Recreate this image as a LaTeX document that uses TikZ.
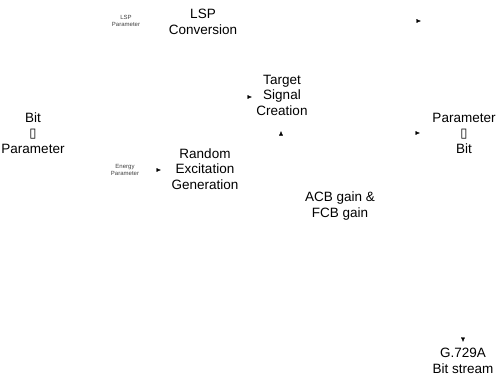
\documentclass[tikz,border=0pt]{standalone}
\usepackage{fontspec}
\setmainfont{Liberation Sans}
\newfontfamily\symfont{DejaVu Sans}
\usetikzlibrary{arrows.meta}

\newcommand{\blk}{{\symfont\fontsize{13}{13}\selectfont ▯}}

\tikzset{
  block/.style={font=\fontsize{13.5}{15.5}\selectfont, align=center, inner sep=1pt},
  tiny/.style={font=\fontsize{6}{7.5}\selectfont, align=center, text=black!75, inner sep=1pt},
  link/.style={draw=white, -{Latex[length=4.5pt,width=4pt,color=black]}},
}

\begin{document}
\begin{tikzpicture}[x=1pt, y=-1pt]
\useasboundingbox (0,0) rectangle (500,378);

  \node [block] (bitpar) at (33,133) {Bit\\\blk\\Parameter};
  \node [tiny] (lsppar) at (126,21) {LSP\\Parameter};
  \node [block] (lspconv) at (203,22) {LSP\\Conversion};
  \node [block] (tsc) at (282,95) {Target\\Signal\\Creation};
  \node [tiny] (energy) at (125,170) {Energy\\Parameter};
  \node [block] (rex) at (205,169) {Random\\Excitation\\Generation};
  \node [block] (acb) at (340,206) {ACB gain \&\\FCB gain};
  \node [block] (parbit) at (464,133) {Parameter\\\blk\\Bit};
  \node [block] (g729) at (463,361) {G.729A\\Bit stream};

  % arrow ends
  \coordinate (lspout) at (421,21);
  \coordinate (tscin) at (252,97);
  \coordinate (tscup) at (281,131);
  \coordinate (rexin) at (161,170);
  \coordinate (parin) at (420,133);
  \coordinate (bsin) at (463,342);

  \draw [link] (lspconv.east) -- (lspout);
  \draw [link] (bitpar.east) -- ++(20,0) |- (tscin);
  \draw [link] (rex.east) -| (tscup);
  \draw [link] (energy.east) -- (rexin);
  \draw [link] (acb.east) -- ++(15,0) |- (parin);
  \draw [link] (parbit.south) -- (bsin);
\end{tikzpicture}
\end{document}
